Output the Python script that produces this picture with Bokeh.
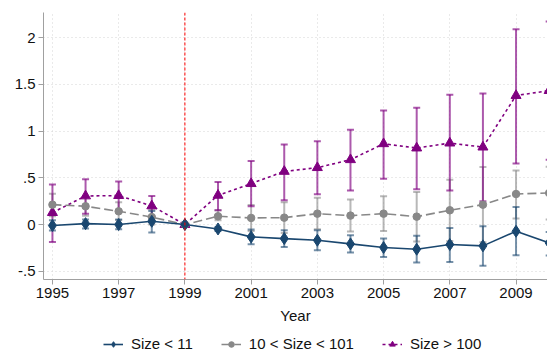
from bokeh.plotting import figure
from bokeh.layouts import column
from bokeh.models import (FixedTicker, Span, Legend, LegendItem, ColumnDataSource, Range1d)
from bokeh.embed import file_html
from bokeh.resources import INLINE

nan = float("nan")
years = [1995, 1996, 1997, 1998, 1999, 2000, 2001, 2002, 2003, 2004, 2005, 2006, 2007, 2008, 2009, 2010]

small = [-0.01, 0.01, 0.0, 0.035, 0.0, -0.047, -0.132, -0.15, -0.168, -0.207, -0.246, -0.264, -0.214, -0.228, -0.072, -0.196]
small_lo = [-0.063, -0.043, -0.05, -0.086, nan, -0.068, -0.21, -0.239, -0.275, -0.30, -0.346, -0.406, -0.40, -0.442, -0.328, -0.33]
small_hi = [0.046, 0.053, 0.053, 0.146, nan, -0.026, -0.054, -0.061, -0.06, -0.114, -0.15, -0.121, -0.036, -0.018, 0.188, -0.08]

medium = [0.213, 0.196, 0.142, 0.08, 0.0, 0.089, 0.071, 0.074, 0.117, 0.096, 0.117, 0.085, 0.153, 0.213, 0.327, 0.338]
medium_lo = [0.09, 0.095, 0.05, 0.0, nan, 0.046, -0.07, -0.09, -0.05, -0.075, -0.07, -0.18, -0.175, -0.19, 0.064, 0.053]
medium_hi = [0.33, 0.295, 0.24, 0.16, nan, 0.153, 0.21, 0.24, 0.288, 0.267, 0.302, 0.349, 0.48, 0.615, 0.58, 0.62]

large = [0.128, 0.306, 0.31, 0.2, 0.0, 0.313, 0.438, 0.569, 0.609, 0.694, 0.865, 0.819, 0.872, 0.829, 1.381, 1.434]
large_lo = [-0.186, 0.117, 0.146, 0.08, nan, 0.153, 0.196, 0.26, 0.324, 0.366, 0.491, 0.377, 0.366, 0.249, 0.655, 0.694]
large_hi = [0.43, 0.484, 0.46, 0.306, nan, 0.455, 0.68, 0.858, 0.893, 1.015, 1.221, 1.25, 1.389, 1.403, 2.09, 2.175]

labels = ["Size < 11", "10 < Size < 101", "Size > 100"]
x_ticks = [1995, 1997, 1999, 2001, 2003, 2005, 2007, 2009]
y_ticks = [-0.5, 0.0, 0.5, 1.0, 1.5, 2.0]
y_tick_labels = ["-.5", "0", ".5", "1", "1.5", "2"]
event_year = 1999

FONT = "Liberation Sans"
NAVY = "#1a476f"
GRAY = "#888888"
PURPLE = "#800080"

p = figure(width=547, height=330, output_backend="svg", toolbar_location=None,
           x_range=Range1d(1994.73, 2009.95), y_range=Range1d(-0.588, 2.27),
           min_border_left=43, min_border_right=0, min_border_top=12, min_border_bottom=51)
p.outline_line_color = None
p.background_fill_color = "white"
p.border_fill_color = "white"

# axes
p.xaxis.ticker = FixedTicker(ticks=x_ticks)
p.yaxis.ticker = FixedTicker(ticks=y_ticks)
p.yaxis.major_label_overrides = {float(t): s for t, s in zip(y_ticks, y_tick_labels)}
for ax in (p.xaxis[0], p.yaxis[0]):
    ax.axis_line_color = "#a0a0a0"
    ax.axis_line_width = 1
    ax.major_tick_line_color = "#a0a0a0"
    ax.major_tick_out = 5
    ax.major_tick_in = 0
    ax.minor_tick_line_color = None
    ax.major_label_text_font = FONT
    ax.major_label_text_font_size = "15px"
    ax.major_label_text_color = "#111111"
    ax.major_label_standoff = 3
p.yaxis.major_label_orientation = "horizontal"
p.xaxis.axis_label = "Year"
p.xaxis.axis_label_text_font = FONT
p.xaxis.axis_label_text_font_size = "15px"
p.xaxis.axis_label_text_font_style = "normal"
p.xaxis.axis_label_text_color = "#111111"
p.xaxis.axis_label_standoff = 6

for g in (p.xgrid[0], p.ygrid[0]):
    g.grid_line_color = "#d4d4d4"
    g.grid_line_dash = "1 3"
    g.grid_line_width = 1

src = ColumnDataSource(dict(x=years, small=small, small_lo=small_lo, small_hi=small_hi,
                            medium=medium, medium_lo=medium_lo, medium_hi=medium_hi,
                            large=large, large_lo=large_lo, large_hi=large_hi))

# confidence intervals
for key, col, alpha in (("medium", GRAY, 0.6), ("large", PURPLE, 0.65), ("small", NAVY, 0.6)):
    p.segment(x0="x", x1="x", y0=key + "_lo", y1=key + "_hi", source=src,
              line_color=col, line_width=2, line_alpha=alpha)
    p.scatter(x="x", y=key + "_lo", source=src, marker="dash", size=7,
              line_color=col, line_width=2, line_alpha=alpha)
    p.scatter(x="x", y=key + "_hi", source=src, marker="dash", size=7,
              line_color=col, line_width=2, line_alpha=alpha)

p.add_layout(Span(location=event_year, dimension="height", line_color="red",
                  line_dash="3 2", line_width=1))

styles = [
    dict(col=NAVY, dash="solid", marker="diamond", size=12),
    dict(col=GRAY, dash="9 4", marker="circle", size=7.5),
    dict(col=PURPLE, dash="3 3", marker="triangle", size=10),
]
series_keys = ["small", "medium", "large"]

for i in (2, 1, 0):
    st = styles[i]
    p.line("x", series_keys[i], source=src, line_color=st["col"], line_width=1.6, line_dash=st["dash"])
    p.scatter("x", series_keys[i], source=src, marker=st["marker"], size=st["size"],
              fill_color=st["col"], line_color=st["col"])

# legend strip underneath (separate canvas so it is not clipped by the plot frame);
# its renderers reuse the series but lie outside this strip's view
lg = figure(width=547, height=30, output_backend="svg", toolbar_location=None,
            x_range=Range1d(0, 1), y_range=Range1d(10, 11),
            x_axis_location=None, y_axis_location=None,
            min_border_left=0, min_border_right=0, min_border_top=0, min_border_bottom=0)
lg.grid.visible = False
lg.outline_line_color = None
items = []
for i in range(3):
    st = styles[i]
    r1 = lg.line("x", series_keys[i], source=src, line_color=st["col"], line_width=1.6,
                 line_dash=st["dash"])
    r2 = lg.scatter("x", series_keys[i], source=src, marker=st["marker"], size=st["size"] * 0.75,
                    fill_color=st["col"], line_color=st["col"])
    items.append(LegendItem(label=labels[i], renderers=[r1, r2]))
legend = Legend(items=items, orientation="horizontal", location=(60, 8),
                label_text_font=FONT, label_text_font_size="15px",
                label_text_color="#111111",
                glyph_width=20, glyph_height=14, label_standoff=8, spacing=28,
                border_line_color=None, background_fill_alpha=0,
                padding=2, margin=0)
lg.add_layout(legend, "center")

layout = column(p, lg, spacing=0)
open("out.html", "w").write(file_html(layout, INLINE))
